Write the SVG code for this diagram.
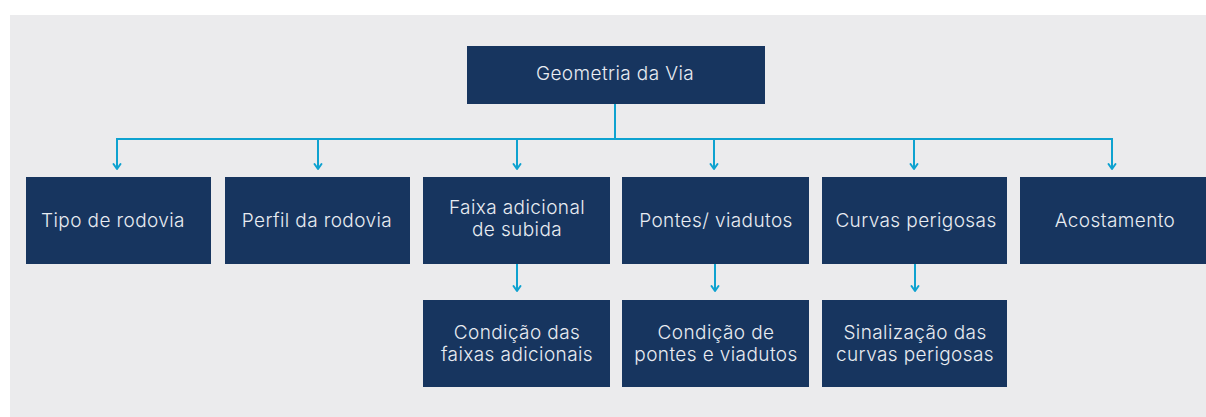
<svg xmlns="http://www.w3.org/2000/svg" width="1206" height="417" viewBox="0 0 1206 417">
<defs>
<style>
.box{fill:#17355F}
.t{font-family:Inter,"Liberation Sans",sans-serif;font-size:19px;font-weight:300;letter-spacing:0.4px;fill:#E8ECF2;text-anchor:middle}
.c{fill:none;stroke:#0EA2D0;stroke-width:2}
.h{fill:none;stroke:#0EA2D0;stroke-width:2;stroke-linecap:round;stroke-linejoin:round}
</style>
<path id="ah" class="h" d="M-3.5,-5 L0,0 L3.5,-5"/>
</defs>
<rect x="10" y="15" width="1196" height="402" fill="#EBEBED"/>
<g id="connectors">
<path class="c" d="M615,104 V139 M117,169 V139 H1112 V169 M318,139 V169 M517,139 V169 M714,139 V169 M914,139 V169 M517,264 V291 M715,264 V291 M915,264 V291"/>
<use href="#ah" x="117" y="169"/>
<use href="#ah" x="318" y="169"/>
<use href="#ah" x="517" y="169"/>
<use href="#ah" x="714" y="169"/>
<use href="#ah" x="914" y="169"/>
<use href="#ah" x="1112" y="169"/>
<use href="#ah" x="517" y="291"/>
<use href="#ah" x="715" y="291"/>
<use href="#ah" x="915" y="291"/>
</g>
<g id="n0"><rect class="box" x="467" y="46" width="298" height="58"/><text class="t" x="615" y="80">Geometria da Via</text></g>
<g id="n1"><rect class="box" x="26" y="177" width="185" height="87"/><text class="t" x="113" y="227">Tipo de rodovia</text></g>
<g id="n2"><rect class="box" x="225" y="177" width="185" height="87"/><text class="t" x="317" y="227">Perfil da rodovia</text></g>
<g id="n3"><rect class="box" x="423" y="177" width="187" height="87"/><text class="t" x="517" y="214">Faixa adicional</text><text class="t" x="517" y="236">de subida</text></g>
<g id="n4"><rect class="box" x="622" y="177" width="187" height="87"/><text class="t" x="716" y="227">Pontes/ viadutos</text></g>
<g id="n5"><rect class="box" x="822" y="177" width="185" height="87"/><text class="t" x="916" y="227">Curvas perigosas</text></g>
<g id="n6"><rect class="box" x="1020" y="177" width="186" height="87"/><text class="t" x="1115" y="227">Acostamento</text></g>
<g id="n7"><rect class="box" x="423" y="300" width="187" height="87"/><text class="t" x="517" y="339">Condição das</text><text class="t" x="517" y="361">faixas adicionais</text></g>
<g id="n8"><rect class="box" x="622" y="300" width="187" height="87"/><text class="t" x="716" y="339">Condição de</text><text class="t" x="716" y="361">pontes e viadutos</text></g>
<g id="n9"><rect class="box" x="822" y="300" width="185" height="87"/><text class="t" x="915" y="339">Sinalização das</text><text class="t" x="915" y="361">curvas perigosas</text></g>
</svg>
